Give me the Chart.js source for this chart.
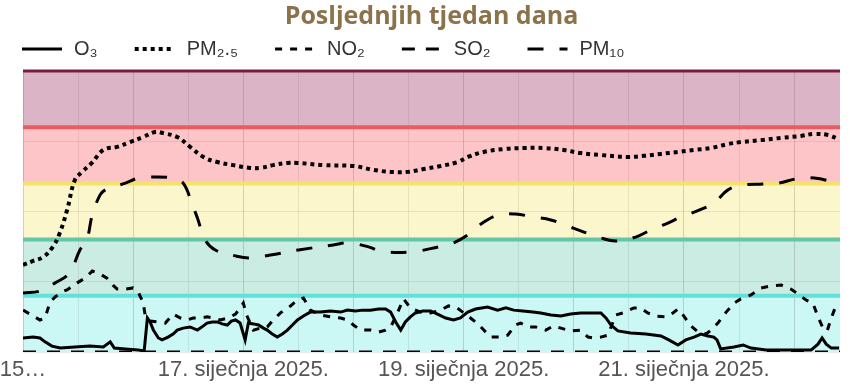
<!DOCTYPE html>
<html><head><meta charset="utf-8">
<script src="https://cdn.jsdelivr.net/npm/chart.js@4.4.1/dist/chart.umd.min.js"></script>
<style>html,body{margin:0;padding:0;background:#fff}#wrap{width:850px;height:384px;position:relative}</style>
</head><body><div id="wrap"><canvas id="c"></canvas></div>
<script>
const titleText = 'Posljednjih tjedan dana';
const seriesNames = ['O₃', 'PM₂.₅', 'NO₂', 'SO₂', 'PM₁₀'];
const xTickHours = [0, 48, 96, 144];
const xTickLabels = ['15…', '17. siječnja 2025.', '19. siječnja 2025.', '21. siječnja 2025.'];
const bandLimits = [0, 20, 40, 60, 80, 100];

const o3Hours = [0,2.2,3.7,4.8,6.3,8.1,11.3,14.6,17.5,19,19.9,22.3,25.1,26.4,27.1,27.7,28.4,29.5,30.3,31.6,32.7,33.6,34.9,36.4,38,39.3,40.1,41.2,42.3,43.4,44.5,45.4,46.3,47.3,48.4,49.1,50.2,51.3,52.4,53.2,54.3,55.4,56.5,57.6,58.7,59.8,61.1,62.6,64.8,67,69.2,70.7,72.4,74,75.7,77.5,79,80.1,81.2,82.3,83.3,84.4,85.5,87.1,88.8,90.3,92.1,93.8,95.3,96.9,98.6,101.2,103.4,105.2,106.9,108.9,111.1,112.8,115,117.2,119.3,121.5,123.7,125.9,127,128.1,129.6,132.4,135.7,139,140.7,142.7,144.4,146.2,147.7,149.2,150.5,151.2,152,154.9,156.9,158.6,161.9,168,171.7,173.2,174.1,175,176.1,177.8];
const o3Values = [5.0,5.3,5.0,3.6,2.1,1.4,1.8,2.1,1.8,3.6,1.4,1.1,0.7,0.4,12.1,10.7,7.8,5.0,4.3,5.3,6.4,7.8,8.5,8.9,7.8,9.3,10.3,10.7,10.7,10.0,9.6,11.0,11.4,10.3,4.3,10.3,10.0,9.6,8.5,7.8,6.4,5.3,6.4,7.8,9.6,11.4,12.8,14.2,14.2,14.6,14.2,14.9,14.6,14.9,14.9,15.3,15.3,14.2,10.7,7.8,10.7,12.5,13.9,14.6,14.6,13.5,12.1,11.4,12.1,14.2,15.3,16.0,14.9,15.7,14.9,14.6,14.2,13.9,13.2,12.8,13.5,13.9,13.9,13.9,12.1,9.6,7.5,6.8,6.4,5.7,4.3,2.5,4.3,5.3,6.4,5.7,5.3,4.3,1.1,1.8,2.5,1.4,0.7,0.7,0.7,2.8,5.0,2.8,1.4,1.4];

const pm25Hours = [0,2.2,4.4,6.5,8,9.6,11.3,12.9,15,17.5,20.5,23.3,26.2,28.8,30.5,33.6,36.4,39.3,42.3,45.8,49.5,51.7,54.5,57.6,59.8,65.5,72,76.4,80,83.8,87.3,91,94.7,96.9,100.4,104.7,109.1,113.5,117.8,121.5,125.9,131.8,135.3,139,142.7,146.2,149.9,153.6,156.4,160.8,165.2,169.5,172.4,175.4,177.6];
const pm25Values = [31.0,32.4,33.8,37.4,42.3,50.5,61.2,64.1,67.3,71.9,73.0,74.7,76.5,78.3,77.9,76.5,73.0,69.4,67.6,66.5,65.5,65.5,66.5,67.3,67.3,66.5,66.2,64.8,64.1,64.1,65.1,66.2,67.6,69.4,71.2,72.2,72.6,72.6,71.9,70.8,70.1,69.4,69.8,70.5,71.2,71.9,72.6,74.0,74.7,75.4,76.2,76.9,77.6,77.2,75.8];

const no2Hours = [0,1.5,3.7,4.8,5.9,7,8.5,9.6,11.8,13.5,15.1,16.4,18.3,19.6,20.5,22.3,24,25.1,26.2,26.6,27.7,29.2,31,32.7,34.3,35.8,37.1,38.6,40.1,41.5,43,44.7,46.3,47.3,48,48.7,50.2,51.7,53.2,54.5,56.1,57.2,58.3,59.8,61.1,62.6,64.8,67,69.2,70.7,72,73.5,75.7,77.5,79,80.1,81.4,82.9,84.4,86.6,88.8,91,92.7,94.3,95.8,97.5,99.1,100.4,101.9,104.1,105.6,107.3,108.4,110.2,111.7,113.9,115.6,117.2,119.3,121.5,123.1,124.4,125.9,127.4,129.2,130.7,133.1,134.6,136.1,137.9,140.1,141.6,142.7,143.8,145.5,147.1,148.8,149.9,151.4,153.2,154.9,156.4,158.6,160.8,163,165.2,167.3,168.9,170.6,172.1,173.2,174.3,175.2,176.1,177,177.8];
const no2Values = [14.9,13.5,11.4,12.1,17.8,19.6,21.4,22.1,24.6,26.3,28.8,28.1,26.3,23.8,22.4,22.4,22.8,21.4,17.4,13.2,11.0,10.7,10.3,13.5,12.1,11.4,12.1,12.1,12.5,12.1,11.4,12.1,13.5,15.7,17.4,13.2,7.8,8.5,8.9,11.4,13.9,15.3,16.4,18.5,19.2,14.9,13.2,12.5,12.1,11.4,9.6,7.8,7.8,7.1,7.8,8.9,13.2,18.9,15.7,14.2,13.9,14.9,16.4,16.0,14.2,12.1,10.0,7.8,5.3,5.3,6.0,9.6,10.3,8.9,8.9,7.8,9.3,8.5,7.5,7.8,5.3,5.0,5.3,6.0,13.2,13.9,15.7,15.7,13.9,12.8,12.5,13.9,15.3,13.2,9.3,7.1,6.4,7.8,10.3,14.2,17.4,18.9,20.3,22.8,23.5,23.8,22.4,20.6,18.5,17.4,12.5,8.5,7.5,12.1,16.0,16.7];

const so2Hours = [0, 24, 48, 72, 96, 120, 144, 168, 178];
const so2Values = [0, 0, 0, 0, 0, 0, 0, 0, 0];

const pm10Hours = [0,3.7,7,10.1,12.4,13.9,15.1,16.8,17.9,19.6,22.3,25.1,27.7,32.5,34.9,36.9,38,39.7,41.9,46.3,49.5,53.9,60,67.6,70.9,75.3,77.9,84.4,90.5,93.8,97.5,100.1,103.6,107.3,111.3,115,118.7,121.5,125.9,129.2,133.5,136.4,140.5,143.3,147.3,150.5,153.6,156.9,161.2,164.7,168.4,172.4,176.5,177.8];
const pm10Values = [21.0,21.7,24.6,28.1,36.3,39.9,48.8,55.9,57.7,58.7,60.1,61.9,62.3,61.9,60.1,52.3,47.7,39.9,36.3,34.2,33.5,34.5,36.3,38.1,38.8,37.4,35.9,35.6,37.4,38.8,42.3,45.9,48.8,49.1,48.0,47.0,44.8,43.1,40.6,39.5,40.9,43.1,45.9,48.0,50.5,53.0,57.7,59.4,59.8,60.1,61.6,61.9,60.5,59.8];

const pts = (hs, vs) => hs.map((h, i) => ({x: h, y: vs[i]}));

const bandFills = ['#cbf7f5', '#cbece2', '#fbf6cc', '#fec5c9', '#dbb5c5'];
const bandLineColors = ['#62e0dc', '#63c6a6', '#f3e36c', '#eb5c5f', '#7c1c41'];

const bandPlugin = {
  id: 'bands',
  beforeDraw(chart) {
    const {ctx, chartArea: a, scales: {y}} = chart;
    ctx.save();
    for (let i = 0; i < bandFills.length; i++) {
      const t = y.getPixelForValue(bandLimits[i + 1]);
      const b = y.getPixelForValue(bandLimits[i]);
      ctx.fillStyle = bandFills[i];
      ctx.fillRect(a.left, t, a.right - a.left, b - t);
    }
    ctx.restore();
  },
  beforeDatasetsDraw(chart) {
    const {ctx, chartArea: a, scales: {y}} = chart;
    ctx.save();
    for (let i = 0; i < bandLineColors.length; i++) {
      const p = y.getPixelForValue(bandLimits[i + 1]);
      ctx.strokeStyle = bandLineColors[i];
      ctx.lineWidth = i === 4 ? 3 : 4;
      ctx.beginPath();
      ctx.moveTo(a.left, p);
      ctx.lineTo(a.right, p);
      ctx.stroke();
    }
    ctx.restore();
  }
};

const legendFont = '20px "Liberation Sans Narrow", "Liberation Sans", sans-serif';
const legendPlugin = {
  id: 'lineLegend',
  afterDraw(chart) {
    const {ctx, chartArea: a} = chart;
    ctx.save();
    let x = 22;
    const yy = a.top - 22;
    ctx.font = legendFont;
    ctx.textBaseline = 'middle';
    chart.data.datasets.forEach(ds => {
      ctx.strokeStyle = '#000';
      ctx.lineWidth = ds.borderWidth;
      ctx.setLineDash(ds.borderDash || []);
      ctx.beginPath();
      ctx.moveTo(x, yy);
      ctx.lineTo(x + 40, yy);
      ctx.stroke();
      ctx.setLineDash([]);
      ctx.fillStyle = '#333';
      ctx.fillText(ds.label, x + 52, yy);
      x += 52 + ctx.measureText(ds.label).width + 37;
    });
    ctx.restore();
  }
};

const mk = (label, data, dash, width, tension) => ({
  label, data, borderColor: '#000', borderWidth: width, borderDash: dash,
  pointRadius: 0, tension, fill: false
});

new Chart(document.getElementById('c'), {
  type: 'line',
  data: {
    datasets: [
      mk(seriesNames[0], pts(o3Hours, o3Values), [], 3, 0),
      mk(seriesNames[1], pts(pm25Hours, pm25Values), [4, 4], 4, 0.4),
      mk(seriesNames[2], pts(no2Hours, no2Values), [7, 8], 3, 0),
      mk(seriesNames[3], pts(so2Hours, so2Values), [13, 11], 3, 0),
      mk(seriesNames[4], pts(pm10Hours, pm10Values), [16, 16], 3, 0.4)
    ]
  },
  options: {
    responsive: true,
    maintainAspectRatio: false,
    animation: false,
    layout: {padding: {left: 23, right: 10, top: 0, bottom: 0}},
    plugins: {
      legend: {display: false},
      tooltip: {enabled: false},
      title: {
        display: true, text: titleText, color: '#8c724b',
        font: {family: '"Open Sans", sans-serif', size: 25, weight: 'bold'},
        padding: {top: 2, bottom: 39}
      }
    },
    scales: {
      x: {
        type: 'linear', min: 0, max: 178,
        afterFit: (s) => { s.height = 32; s.paddingLeft = 0; s.paddingRight = 0; },
        ticks: {
          stepSize: 12, autoSkip: false, maxRotation: 0, includeBounds: false,
          color: '#555', padding: 5,
          font: {family: '"Liberation Sans Narrow", "Liberation Sans", sans-serif', size: 22},
          callback: (v) => { const i = xTickHours.indexOf(v); return i >= 0 ? xTickLabels[i] : ''; }
        },
        grid: {
          drawTicks: false,
          color: (c) => (c.tick && c.tick.value % 24 === 0) ? 'rgba(90,70,70,0.22)' : 'rgba(90,70,70,0.12)'
        },
        border: {display: false}
      },
      y: {
        min: 0, max: 100,
        afterFit: (s) => { s.paddingTop = 0; s.paddingBottom = 0; },
        ticks: {display: false, stepSize: 25},
        grid: {drawTicks: false, color: 'rgba(90,70,70,0.12)'},
        border: {display: false}
      }
    }
  },
  plugins: [bandPlugin, legendPlugin]
});
</script></body></html>
